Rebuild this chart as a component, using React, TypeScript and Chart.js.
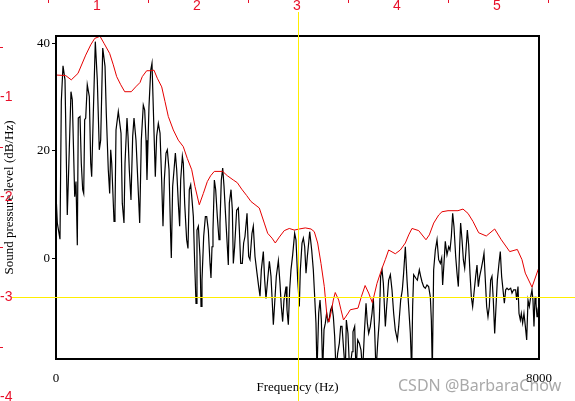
import React, { useEffect, useRef } from "react";
import { Chart, registerables } from "chart.js";

Chart.register(...registerables);

const xRange = [0, 8000];
const yRange = [-18.65, 41.35];
const xTickValues = [0, 8000];
const yTickValues = [0, 20, 40];
const xTitle = "Frequency (Hz)";
const yTitle = "Sound pressure level (dB/Hz)";
const rulerTopLabels = ["1", "2", "3", "4", "5"];
const rulerLeftLabels = ["-1", "-2", "-3", "-4"];
const watermark = "CSDN @BarbaraChow";

// [frequency Hz, dB/Hz] spectrum (black)
const spectrum: [number, number][] = [
  [0, 12.0], [22, 6.6], [66, 3.6], [88, 29.2], [116, 35.8], [149, 33.2], [187, 8.1], [210, 16.5],
  [248, 31.0], [270, 29.5], [310, 11.5], [331, 14.3], [353, 2.5], [369, 26.1], [398, 26.4], [419, 17.7],
  [442, 12.8], [459, 12.1], [475, 25.8], [492, 26.1], [518, 32.3], [552, 30.1], [575, 17.7], [591, 15.2],
  [618, 27.0], [651, 40.3], [684, 33.2], [717, 20.2], [740, 22.0], [774, 39.1], [812, 35.7], [833, 27.0],
  [866, 16.5], [889, 12.1], [906, 20.2], [923, 17.7], [961, 6.9], [977, 8.7], [994, 23.9], [1032, 27.3],
  [1077, 23.3], [1098, 10.3], [1126, 6.6], [1143, 17.7], [1176, 26.1], [1193, 22.7], [1214, 16.5], [1242, 10.9],
  [1270, 22.7], [1292, 26.1], [1325, 22.0], [1347, 16.5], [1386, 6.6], [1413, 22.0], [1446, 28.5], [1469, 27.6],
  [1491, 22.0], [1507, 14.6], [1540, 28.2], [1569, 35.0], [1590, 36.3],
  [1645, 15.2], [1667, 22.7], [1695, 25.1], [1723, 23.3], [1750, 14.6], [1772, 6.0], [1794, 14.6], [1822, 19.6],
  [1844, 20.2], [1872, 16.5], [1899, 4.1], [1910, 0.1], [1932, 13.4], [1955, 16.5], [1977, 19.6], [1999, 16.5],
  [2026, 10.3], [2048, 6.0], [2065, 14.6], [2093, 19.0], [2109, 17.7], [2131, 10.3], [2164, 3.5], [2186, 1.9],
  [2208, 12.8], [2231, 13.7], [2253, 10.9], [2275, 7.8], [2297, -0.9], [2319, -8.3], [2335, 5.3], [2358, 6.0],
  [2385, 0.4], [2402, -8.9], [2418, -4.0], [2446, 4.1], [2474, 7.8], [2496, 7.8], [2523, 5.3], [2551, -0.9],
  [2567, -3.6], [2584, 2.2], [2600, 5.3], [2623, 14.6], [2645, 12.8], [2672, 7.8], [2700, 3.5], [2716, 6.6],
  [2738, 14.6], [2761, 16.8], [2783, 13.4], [2810, 7.8], [2838, 2.2], [2854, -1.2], [2871, 10.3], [2899, 12.8],
  [2921, 9.0], [2937, -0.9], [2959, 2.2], [2992, 9.0], [3020, 9.4], [3037, 5.3], [3059, -0.9], [3086, -0.9],
  [3108, 2.9], [3130, 4.1],
  [3164, 8.4], [3191, 0.4], [3213, -0.2], [3246, 4.7], [3268, 6.0], [3296, 0.4], [3329, -2.7], [3357, -5.2],
  [3379, -7.0], [3401, -2.1], [3434, 1.3], [3456, -3.9], [3478, -7.4], [3506, -3.9], [3534, -0.5], [3561, -3.3],
  [3583, -8.3], [3600, -12.3], [3622, -8.3], [3649, -3.3], [3683, -0.4], [3710, -4.6], [3732, -8.9], [3754, -11.7],
  [3776, -7.7], [3810, -5.2], [3826, -9.5], [3848, -12.3], [3870, -5.8], [3892, -2.1], [3920, 0.7], [3953, 4.7],
  [3975, 3.5], [4003, -3.9], [4014, -5.8], [4030, -8.9], [4047, -2.1], [4075, 2.9], [4097, 3.8], [4119, 2.2],
  [4141, -2.7], [4163, 0.4], [4185, 2.9], [4202, 5.0], [4235, 1.6], [4262, -2.1], [4284, -7.0], [4306, -12.0],
  [4323, -21], [4351, -10.1], [4373, -7.7], [4395, -11.4], [4417, -21], [4439, -13.2], [4461, -12.0], [4483, -10.1],
  [4505, -11.7], [4527, -11.1], [4549, -9.5], [4571, -8.9], [4594, -10.8], [4616, -14.5], [4638, -21], [4665, -17.6],
  [4693, -15.7], [4715, -12.6],
  [4737, -12.6], [4765, -17.0], [4792, -21], [4809, -11.4], [4836, -13.9], [4864, -21], [4903, -17.3], [4919, -13.6],
  [4947, -12.6], [4969, -21], [4997, -15.1], [5024, -15.7], [5052, -17.0], [5079, -21], [5107, -13.9], [5135, -8.3],
  [5157, -12.0], [5179, -13.9], [5206, -12.6], [5234, -10.2], [5256, -7.4], [5278, -13.3], [5300, -21], [5328, -15.7],
  [5355, -11.4], [5377, -3.3], [5400, -2.1], [5422, -4.6], [5455, -12.6], [5477, -8.9], [5510, -4.0], [5538, -3.0],
  [5565, -5.8], [5593, -10.2], [5620, -13.3], [5654, -15.1], [5676, -12.6], [5709, -7.7], [5736, -5.8], [5758, -2.7],
  [5786, 2.2], [5814, -4.0], [5841, -8.9], [5869, -13.9], [5891, -21], [5907, -8.9], [5924, -3.0], [5963, -3.7],
  [5985, -4.0], [6018, -2.1], [6040, -3.3], [6062, -4.3], [6090, -5.2], [6117, -5.5], [6145, -4.9], [6172, -5.2],
  [6200, -7.1], [6217, -11.4], [6233, -21], [6255, -2.1], [6283, 1.6], [6311, 3.5], [6338, -0.2], [6366, -0.9],
  [6388, 0.1],
  [6404, -4.9], [6426, -0.9], [6448, 3.2], [6476, 0.7], [6504, 2.2], [6526, 1.6], [6548, 4.1], [6570, 8.4],
  [6592, 5.9], [6620, 0.4], [6642, -2.7], [6664, -5.2], [6686, 2.2], [6702, 6.6], [6725, 3.5], [6747, -0.2],
  [6769, -1.8], [6791, 1.6], [6813, 5.3], [6835, 2.5], [6857, -2.7], [6879, -7.1], [6901, -8.9], [6923, -6.4],
  [6951, -3.3], [6973, -1.2], [6995, -5.2], [7017, -3.3], [7045, -1.8], [7072, -0.2], [7089, 1.0], [7111, -4.0],
  [7133, -8.9], [7155, -10.8], [7177, -8.9], [7199, -4.0], [7221, -3.3], [7243, -7.7], [7266, -13.9], [7288, -8.9],
  [7310, -4.0], [7337, -0.9], [7359, 1.3], [7381, -3.3], [7404, -5.8], [7426, -8.3], [7448, -5.8], [7470, -5.5],
  [7497, -5.8], [7531, -5.5], [7553, -6.4], [7580, -5.8], [7613, -5.8], [7630, -7.7], [7652, -5.2], [7669, -10.2],
  [7691, -11.4], [7707, -10.2], [7729, -12.0], [7751, -10.2], [7774, -12.6], [7796, -15.1], [7818, -7.7], [7840, -8.9],
  [7862, -7.1], [7884, -5.8], [7900, -7.7], [7917, -12.6], [7934, -7.1], [7950, -8.3], [7967, -10.8], [7983, -9.5],
  [8000, -8.5],
];

// [frequency Hz, dB/Hz] envelope (red)
const envelope: [number, number][] = [
  [0, 34.1], [161, 34.0], [253, 33.2], [364, 34.4], [492, 37.8], [575, 39.7], [641, 40.9], [729, 41.3],
  [795, 40.0], [889, 38.1], [949, 36.0], [1005, 33.8], [1072, 32.3], [1138, 31.0], [1247, 31.0], [1320, 31.9],
  [1391, 32.7], [1429, 33.8], [1502, 34.9], [1569, 34.9], [1623, 35.0], [1678, 33.5], [1751, 31.9], [1805, 29.2],
  [1860, 26.4], [1943, 23.9], [2026, 22.0], [2108, 20.8], [2175, 18.6], [2248, 16.5], [2302, 13.4], [2373, 10.0],
  [2440, 12.1], [2506, 14.3], [2562, 15.4], [2622, 16.2], [2761, 16.2], [2837, 15.4], [2937, 14.6], [3003, 14.1],
  [3076, 12.9], [3159, 11.7], [3230, 10.6], [3367, 9.4], [3450, 6.6], [3506, 4.7], [3578, 3.8], [3632, 2.9],
  [3699, 4.0], [3781, 5.2], [3864, 5.6], [3947, 5.3], [4030, 5.5], [4129, 5.7], [4224, 5.5], [4278, 5.0],
  [4334, 2.9], [4389, -0.9], [4444, -5.2], [4489, -10.8], [4522, -11.8], [4560, -9.8], [4593, -7.7], [4625, -6.3],
  [4682, -7.7], [4720, -9.5], [4762, -11.4], [4841, -10.1], [4874, -9.5], [5002, -9.2], [5057, -7.1], [5120, -5.0],
  [5179, -6.4], [5240, -8.2], [5317, -4.6], [5400, -1.8], [5454, -0.2], [5510, 1.6], [5620, 0.9], [5703, 1.6],
  [5786, 2.9], [5842, 4.4], [5896, 5.6], [6007, 5.2], [6128, 3.5], [6183, 4.4], [6256, 6.6], [6339, 8.1],
  [6393, 8.7], [6493, 8.9], [6658, 8.9], [6741, 9.2], [6824, 8.4], [6907, 6.9], [7001, 4.8], [7127, 4.2],
  [7266, 5.5], [7376, 3.5], [7515, 1.3], [7641, 1.7], [7718, -0.2], [7773, -2.7], [7884, -5.3], [8000, -1.6],
];

const serif = "'Liberation Serif', 'Times New Roman', serif";

const overlayPlugin = {
  id: "praatOverlay",
  beforeDraw(chart: any) {
    const ctx = chart.ctx;
    ctx.save();
    ctx.fillStyle = "#ffffff";
    ctx.fillRect(0, 0, chart.width, chart.height);
    ctx.restore();
  },
  afterDraw(chart: any) {
    const ctx = chart.ctx;
    const a = chart.chartArea;
    ctx.save();
    // frame
    ctx.strokeStyle = "#000";
    ctx.lineWidth = 2;
    ctx.strokeRect(a.left, a.top, a.right - a.left, a.bottom - a.top);

    // axis titles
    ctx.fillStyle = "#000";
    ctx.font = `13px ${serif}`;
    ctx.textAlign = "center";
    ctx.textBaseline = "middle";
    ctx.fillText(xTitle, (a.left + a.right) / 2, 388);
    ctx.save();
    ctx.translate(10, (a.top + a.bottom) / 2);
    ctx.rotate(-Math.PI / 2);
    ctx.fillText(yTitle, 0, 0);
    ctx.restore();

    // watermark
    ctx.font = "16px 'Noto Sans', 'Liberation Sans', sans-serif";
    ctx.fillStyle = "rgba(160,160,160,0.9)";
    ctx.textAlign = "left";
    ctx.fillText(watermark, 398, 386);

    // yellow crosshair
    ctx.fillStyle = "#ffee00";
    ctx.fillRect(298, 12, 1, chart.height - 12);
    ctx.fillRect(12, 297, chart.width - 12, 1);

    // red screen ruler
    ctx.fillStyle = "#e8102a";
    for (let i = 0; i <= rulerTopLabels.length; i++) {
      ctx.fillRect(48 + 100 * i, 0, 1, 3);
    }
    for (let i = 0; i < rulerLeftLabels.length; i++) {
      ctx.fillRect(0, 47 + 100 * i, 3, 1);
    }
    ctx.font = "14px 'Liberation Sans', Arial, sans-serif";
    ctx.textAlign = "center";
    ctx.textBaseline = "middle";
    rulerTopLabels.forEach((t, i) => ctx.fillText(t, 97 + 100 * i, 6));
    ctx.textAlign = "left";
    rulerLeftLabels.forEach((t, i) => ctx.fillText(t, 0, 97 + 100 * i));
    ctx.restore();
  },
};

export default function App() {
  const canvasRef = useRef<HTMLCanvasElement | null>(null);

  useEffect(() => {
    const canvas = canvasRef.current;
    if (!canvas) return;
    const chart = new Chart(canvas, {
      type: "line",
      data: {
        datasets: [
          {
            label: "envelope",
            data: envelope.map(([x, y]) => ({ x, y })),
            borderColor: "#e60000",
            borderWidth: 1,
            pointRadius: 0,
            tension: 0,
            fill: false,
            order: 0,
          },
          {
            label: "spectrum",
            data: spectrum.map(([x, y]) => ({ x, y })),
            borderColor: "#000000",
            borderWidth: 1.2,
            pointRadius: 0,
            tension: 0,
            fill: false,
            order: 1,
          },
        ],
      },
      options: {
        animation: false,
        responsive: false,
        devicePixelRatio: 1,
        layout: { padding: { top: 36, right: 36, left: 0, bottom: 0 } },
        plugins: {
          legend: { display: false },
          tooltip: { enabled: false },
          title: { display: false },
        },
        scales: {
          x: {
            type: "linear",
            min: xRange[0],
            max: xRange[1],
            grid: { display: false },
            border: { display: false },
            afterBuildTicks: (scale: any) => {
              scale.ticks = xTickValues.map((value) => ({ value }));
            },
            afterFit: (scale: any) => {
              scale.height = 42;
              scale.paddingLeft = 0;
              scale.paddingRight = 0;
            },
            ticks: {
              autoSkip: false,
              maxRotation: 0,
              padding: 4,
              color: "#000",
              font: { family: serif, size: 13 },
              callback: (v: any) => String(v),
            },
          },
          y: {
            type: "linear",
            min: yRange[0],
            max: yRange[1],
            grid: {
              display: true,
              drawOnChartArea: false,
              drawTicks: true,
              tickLength: 4,
              color: "#000",
              lineWidth: 1,
            },
            border: { display: false },
            afterBuildTicks: (scale: any) => {
              scale.ticks = yTickValues.map((value) => ({ value }));
            },
            afterFit: (scale: any) => {
              scale.width = 56;
              scale.paddingTop = 0;
              scale.paddingBottom = 0;
            },
            ticks: {
              autoSkip: false,
              padding: 2,
              color: "#000",
              font: { family: serif, size: 13 },
              callback: (v: any) => String(v),
            },
          },
        },
      },
      plugins: [overlayPlugin],
    });
    return () => chart.destroy();
  }, []);

  return (
    <div style={{ position: "fixed", left: 0, top: 0, width: 575, height: 401, background: "#fff" }}>
      <canvas ref={canvasRef} width={575} height={401} style={{ display: "block", width: 575, height: 401 }} />
    </div>
  );
}
